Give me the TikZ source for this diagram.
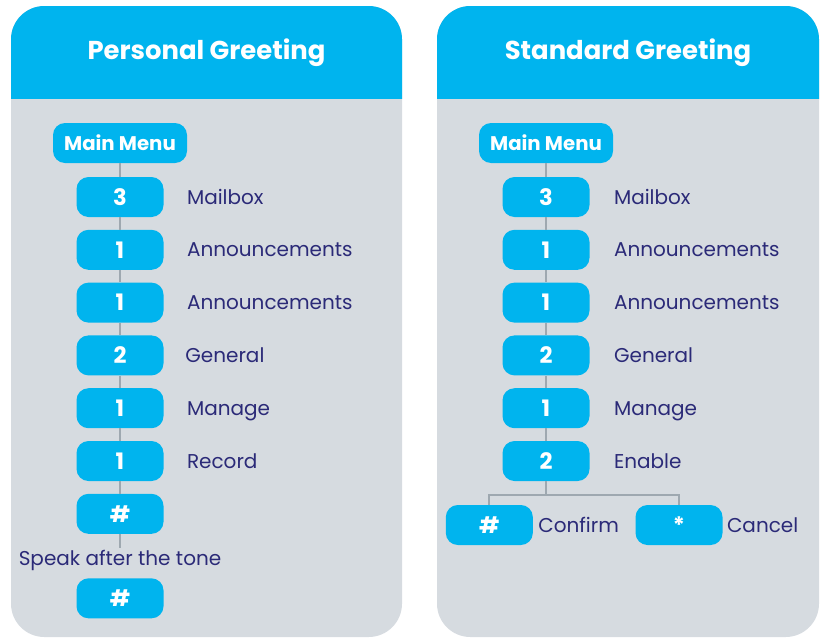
\documentclass[tikz,border=0pt]{standalone}
\usepackage{fontspec}
\setmainfont{Poppins}
\usepackage{tikz}
\usetikzlibrary{positioning}
\definecolor{skyblue}{HTML}{00B4EE}
\definecolor{panelgrey}{HTML}{D6DBE0}
\definecolor{linegrey}{HTML}{9EA8B0}
\definecolor{navy}{HTML}{2B2A78}
\tikzstyle{key}=[rectangle,rounded corners=9pt,fill=skyblue,text=white,font=\bfseries\fontsize{17}{17}\selectfont,minimum width=65.25pt,minimum height=30pt,inner sep=0pt]
\tikzstyle{menu}=[key,font=\bfseries\fontsize{14.8}{14.8}\selectfont,minimum width=100.5pt]
\tikzstyle{note}=[text=navy,font=\fontsize{15}{15}\selectfont,inner sep=0pt,text height=12.5pt,text depth=2pt]
\tikzstyle{link}=[draw=linegrey,line width=1.5pt]
\tikzstyle{title}=[text=white,font=\bfseries\fontsize{19.4}{19.4}\selectfont]

\begin{document}
\begin{tikzpicture}[x=0.75pt,y=-0.75pt,node distance=9.2pt]
	\useasboundingbox (0,0) rectangle (820,639);
	% panels
	\fill[panelgrey,rounded corners=25pt] (11,6) rectangle (402,637);
	\fill[panelgrey,rounded corners=25pt] (437,6) rectangle (819,637);
	\begin{scope}
		\clip (0,0) rectangle (820,98);
		\fill[skyblue,rounded corners=25pt] (11,6) rectangle (402,637);
		\fill[skyblue,rounded corners=25pt] (437,6) rectangle (819,637);
	\end{scope}
	\node[title] (ptitle) at (206.5,53) {Personal Greeting};
	\node[title] (stitle) at (628,53) {Standard Greeting};

	% personal greeting
	\node[menu]	(pmain)	at (120,143)	{Main Menu};
	\node[key]	(p3)	[below=10.1pt of pmain]	{3};
	\node[key]	(p1a)	[below=of p3]	{1};
	\node[key]	(p1b)	[below=of p1a]	{1};
	\node[key]	(p2)	[below=of p1b]	{2};
	\node[key]	(p1c)	[below=of p2]	{1};
	\node[key]	(p1d)	[below=of p1c]	{1};
	\node[key]	(phash)	[below=of p1d]	{\#};
	\node[note]	(pspeak)	[below=10.5pt of phash]	{Speak after the tone};
	\node[key]	(pend)	[below=7.6pt of pspeak]	{\#};

	\node[note]	(pmailbox)	[right=17.25pt of p3]	{Mailbox};
	\node[note]	(pann1)	[right=17.25pt of p1a]	{Announcements};
	\node[note]	(pann2)	[right=17.25pt of p1b]	{Announcements};
	\node[note]	(pgen)	[right=16pt of p2]	{General};
	\node[note]	(pman)	[right=17.25pt of p1c]	{Manage};
	\node[note]	(prec)	[right=17.25pt of p1d]	{Record};

	\draw[link] (pmain) -- (p3);
	\draw[link] (p3) -- (p1a);
	\draw[link] (p1a) -- (p1b);
	\draw[link] (p1b) -- (p2);
	\draw[link] (p2) -- (p1c);
	\draw[link] (p1c) -- (p1d);
	\draw[link] (p1d) -- (phash);
	\draw[link] (phash) -- (pspeak);

	% standard greeting
	\node[menu]	(smain)	at (546,143)	{Main Menu};
	\node[key]	(s3)	[below=10.1pt of smain]	{3};
	\node[key]	(s1a)	[below=of s3]	{1};
	\node[key]	(s1b)	[below=of s1a]	{1};
	\node[key]	(s2)	[below=of s1b]	{2};
	\node[key]	(s1c)	[below=of s2]	{1};
	\node[key]	(sen)	[below=of s1c]	{2};
	\node[key]	(sconf)	[below=17.6pt of sen,xshift=-42.5pt]	{\#};
	\node[key]	(scan)	[below=17.6pt of sen,xshift=99.75pt]	{*};

	\node[note]	(smailbox)	[right=18pt of s3]	{Mailbox};
	\node[note]	(sann1)	[right=18pt of s1a]	{Announcements};
	\node[note]	(sann2)	[right=18pt of s1b]	{Announcements};
	\node[note]	(sgen)	[right=18pt of s2]	{General};
	\node[note]	(sman)	[right=18pt of s1c]	{Manage};
	\node[note]	(senable)	[right=18pt of sen]	{Enable};
	\node[note]	(sconfirm)	[right=3.75pt of sconf]	{Confirm};
	\node[note]	(scancel)	[right=3pt of scan]	{Cancel};

	\draw[link] (smain) -- (s3);
	\draw[link] (s3) -- (s1a);
	\draw[link] (s1a) -- (s1b);
	\draw[link] (s1b) -- (s2);
	\draw[link] (s2) -- (s1c);
	\draw[link] (s1c) -- (sen);
	\draw[link] (sen.south) -- ++(0,14) -| (sconf.north);
	\draw[link] (sen.south) -- ++(0,14) -| (scan.north);
\end{tikzpicture}
\end{document}
